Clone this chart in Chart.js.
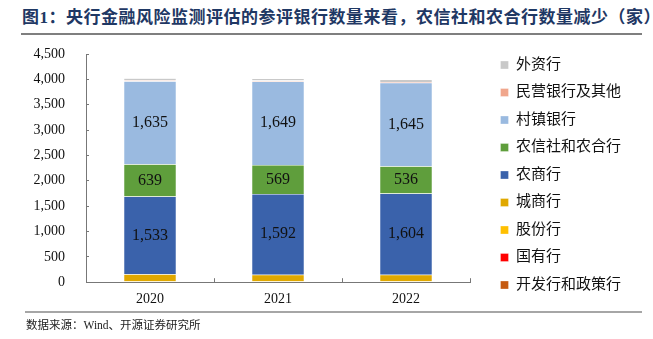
<!DOCTYPE html>
<html>
<head>
<meta charset="utf-8">
<script src="https://cdn.jsdelivr.net/npm/chart.js@4"></script>
<style>
  html, body { margin: 0; padding: 0; background: #fff; }
  #wrap { position: relative; width: 653px; height: 339px; overflow: hidden; }
  #title {
    position: absolute; left: 22px; top: 3px; width: 630px;
    font: bold 17px "Liberation Serif", "Noto Sans CJK SC", serif;
    letter-spacing: 0.5px;
    color: #1f3864; white-space: nowrap;
  }
  #rule-top { position: absolute; left: 21px; top: 33px; width: 621px; height: 2px; background: #7f7f7f; }
  #rule-bottom { position: absolute; left: 25px; top: 311px; width: 617px; height: 2px; background: #a6a6a6; }
  #source {
    position: absolute; left: 26px; top: 316px;
    font: 11.5px "Liberation Serif", "Noto Sans CJK SC", serif; color: #222;
  }
  canvas { position: absolute; left: 0; top: 0; }
</style>
</head>
<body>
<div id="wrap">
  <div id="title">图1：央行金融风险监测评估的参评银行数量来看，农信社和农合行数量减少（家）</div>
  <div id="rule-top"></div>
  <canvas id="bank-chart" width="653" height="339"></canvas>
  <div id="rule-bottom"></div>
  <div id="source">数据来源：Wind、开源证券研究所</div>
</div>
<script>
  const years = ["2020", "2021", "2022"];

  // 自下而上的堆叠顺序
  const policyBanks = [3, 3, 3];
  const stateBanks  = [6, 6, 6];
  const jointStock  = [12, 12, 12];
  const cityBanks   = [134, 128, 125];
  const ruralComm   = [1533, 1592, 1604];
  const ruralCoop   = [639, 569, 536];
  const villageBank = [1635, 1649, 1645];
  const privateEtc  = [19, 19, 19];
  const foreignBank = [41, 41, 48];

  const yTicks = [0, 500, 1000, 1500, 2000, 2500, 3000, 3500, 4000, 4500];

  const serif = '"Liberation Serif", "Noto Sans CJK SC", serif';

  const series = [
    { label: "开发行和政策行", data: policyBanks, color: "#c55a11" },
    { label: "国有行", data: stateBanks, color: "#ff0000" },
    { label: "股份行", data: jointStock, color: "#ffc000" },
    { label: "城商行", data: cityBanks, color: "#e0a800" },
    { label: "农商行", data: ruralComm, color: "#3a62ab", showValue: true },
    { label: "农信社和农合行", data: ruralCoop, color: "#5f9e3c", showValue: true },
    { label: "村镇银行", data: villageBank, color: "#9abae0", showValue: true },
    { label: "民营银行及其他", data: privateEtc, color: "#f0a68c" },
    { label: "外资行", data: foreignBank, color: "#c9c9c9" },
  ];

  // 柱内数值标签
  const valueLabels = {
    id: "valueLabels",
    afterDatasetsDraw(chart) {
      const { ctx } = chart;
      ctx.save();
      ctx.font = "16px " + serif;
      ctx.fillStyle = "#111";
      ctx.textAlign = "center";
      ctx.textBaseline = "middle";
      chart.data.datasets.forEach((ds, i) => {
        if (!ds.showValue) return;
        chart.getDatasetMeta(i).data.forEach((bar, j) => {
          const mid = (bar.y + bar.base) / 2;
          ctx.fillText(ds.data[j].toLocaleString("en-US"), bar.x, mid);
        });
      });
      ctx.restore();
    }
  };

  // 图例：单列、固定宽度，并与坐标轴留出间距
  const LEGEND_W = 183;
  const LEGEND_DX = 18;
  const legendGap = {
    id: "legendGap",
    afterInit(chart) {
      const legend = chart.legend;
      const fit = legend.fit.bind(legend);
      const draw = legend.draw.bind(legend);
      legend.fit = function () {
        this.maxHeight = 600;
        fit();
        this.width = LEGEND_W;
      };
      legend.draw = function () {
        const { top, bottom } = this;
        this.top = 45;
        this.bottom = 305;
        const c = this.ctx;
        c.save();
        c.translate(LEGEND_DX, 0);
        draw();
        c.restore();
        this.top = top;
        this.bottom = bottom;
      };
    }
  };

  new Chart(document.getElementById("bank-chart"), {
    type: "bar",
    data: {
      labels: years,
      datasets: series.map(s => ({
        label: s.label,
        data: s.data,
        showValue: s.showValue,
        backgroundColor: s.color,
        borderColor: "rgba(255,255,255,0.6)",
        borderWidth: 0.5,
        categoryPercentage: 1,
        barPercentage: 0.41,
      })),
    },
    options: {
      responsive: false,
      animation: false,
      layout: { padding: { left: 20, right: 0, top: 54, bottom: 18 } },
      plugins: {
        tooltip: { enabled: false },
        legend: {
          position: "right",
          reverse: true,
          labels: {
            boxWidth: 8,
            boxHeight: 8,
            padding: 12.5,
            color: "#111",
            font: { family: serif, size: 15 },
          },
        },
      },
      scales: {
        x: {
          stacked: true,
          grid: { display: true, drawOnChartArea: false, color: "#777", tickLength: -4, offset: true },
          border: { color: "#777" },
          ticks: { color: "#111", font: { family: serif, size: 14 }, padding: 13 },
        },
        y: {
          stacked: true,
          min: 0,
          max: 4500,
          afterBuildTicks(scale) {
            scale.ticks = yTicks.map(v => ({ value: v }));
          },
          afterFit(scale) { scale.width = 66; },
          grid: { display: true, drawOnChartArea: false, color: "#777", tickLength: -3 },
          border: { color: "#777" },
          ticks: {
            color: "#111",
            font: { family: serif, size: 14 },
            padding: 24,
            callback: v => v.toLocaleString("en-US"),
          },
        },
      },
    },
    plugins: [valueLabels, legendGap],
  });
</script>
</body>
</html>
